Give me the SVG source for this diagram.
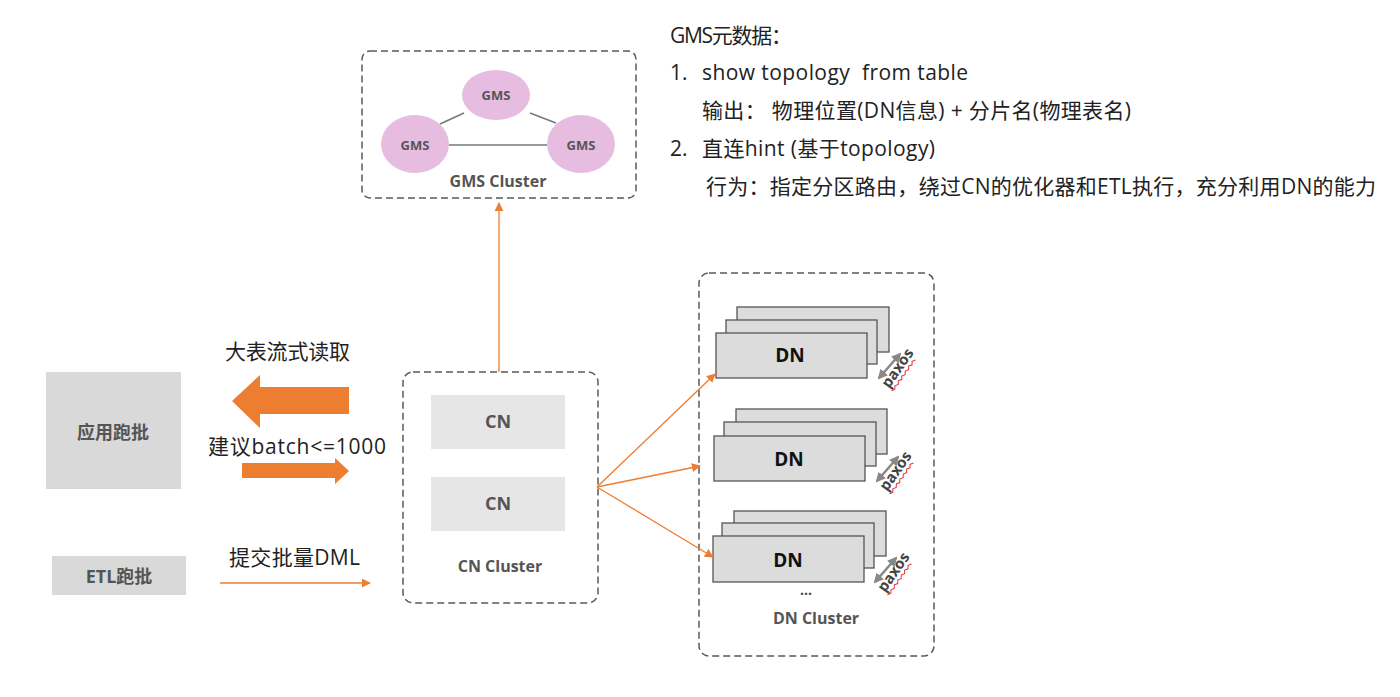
<svg xmlns="http://www.w3.org/2000/svg" width="1400" height="697" viewBox="0 0 1400 697">
<style>
text{font-family:"Open Sans","Noto Sans CJK SC",sans-serif}
.cl{fill:none;stroke:#595959;stroke-width:1.5;stroke-dasharray:7 4}
.lbl{font-weight:bold;fill:#555;text-anchor:middle}
.gms{fill:#e6bde0}
.dn{fill:#dcdcdc;stroke:#555;stroke-width:1.3}
.cn{fill:#e6e6e6}
.wire{stroke:#ED7D31;stroke-width:1.3;fill:none}
.txt{font-size:21px;fill:#222}
.px{fill:none;stroke:#888;stroke-width:2.5}
.wave{fill:none;stroke:#e03030;stroke-width:1}
</style>
<defs>
<marker id="oa" viewBox="0 0 10 10" refX="9" refY="5" markerWidth="9" markerHeight="9" markerUnits="userSpaceOnUse" orient="auto"><path d="M0,0 L10,5 L0,10 z" fill="#ED7D31"/></marker>
<marker id="ga" viewBox="0 0 10 10" refX="8" refY="5" markerWidth="4" markerHeight="4" orient="auto-start-reverse"><path d="M0,0 L10,5 L0,10 z" fill="#888"/></marker>
<g id="paxos">
<line class="px" x1="0" y1="0" x2="21" y2="-24" marker-start="url(#ga)" marker-end="url(#ga)"/>
<g transform="translate(10,11) rotate(-55)">
<text x="0" y="0" font-size="15" font-weight="bold" fill="#444">paxos</text>
<path class="wave" d="M0,3 l3,2 l3,-2 l3,2 l3,-2 l3,2 l3,-2 l3,2 l3,-2 l3,2 l3,-2 l3,2 l3,-2 l3,2"/>
</g>
</g>
</defs>
<rect width="1400" height="697" fill="#ffffff"/>

<g id="gms-cluster">
<rect class="cl" x="362" y="51" width="274" height="147" rx="8"/>
<line x1="440" y1="124" x2="464" y2="113" stroke="#777" stroke-width="1.5"/>
<line x1="530" y1="113" x2="556" y2="123" stroke="#777" stroke-width="1.5"/>
<line x1="449" y1="145" x2="547" y2="145" stroke="#777" stroke-width="1.5"/>
<ellipse class="gms" cx="496" cy="95" rx="34" ry="25"/>
<ellipse class="gms" cx="415" cy="144" rx="34" ry="29"/>
<ellipse class="gms" cx="581" cy="144" rx="34" ry="29"/>
<text class="lbl" x="496" y="95" font-size="13" dominant-baseline="central" fill="#444">GMS</text>
<text class="lbl" x="415" y="145" font-size="13" dominant-baseline="central">GMS</text>
<text class="lbl" x="581" y="145" font-size="13" dominant-baseline="central">GMS</text>
<text class="lbl" x="498" y="187" font-size="16">GMS Cluster</text>
</g>

<g id="notes">
<text class="txt" x="670" y="43" textLength="122">GMS元数据：</text>
<text class="txt" x="670" y="80">1.</text>
<text class="txt" x="702" y="80" xml:space="preserve" textLength="266">show topology  from table</text>
<text class="txt" x="702" y="118" xml:space="preserve" textLength="429">输出： 物理位置(DN信息) + 分片名(物理表名)</text>
<text class="txt" x="670" y="156">2.</text>
<text class="txt" x="702" y="156" textLength="233">直连hint (基于topology)</text>
<text class="txt" x="706" y="194" textLength="670">行为：指定分区路由，绕过CN的优化器和ETL执行，充分利用DN的能力</text>
</g>

<g id="app-batch">
<rect x="46" y="372" width="135" height="117" fill="#d9d9d9"/>
<text class="lbl" x="113" y="439" font-size="18">应用跑批</text>
</g>
<g id="etl-batch">
<rect x="52" y="556" width="134" height="39" fill="#d9d9d9"/>
<text class="lbl" x="119" y="583" font-size="18">ETL跑批</text>
</g>

<g id="flows">
<path d="M349,387 L260,387 L260,375 L232,401 L260,428 L260,414 L349,414 z" fill="#ED7D31"/>
<text class="txt" x="225" y="359" textLength="125">大表流式读取</text>
<text class="txt" x="208" y="454" textLength="178">建议batch&lt;=1000</text>
<path d="M242,463 L335,463 L335,458 L349,471 L335,484 L335,478 L242,478 z" fill="#ED7D31"/>
<text class="txt" x="229" y="565" textLength="131">提交批量DML</text>
</g>

<g id="cn-cluster">
<rect class="cl" x="403" y="372" width="195" height="231" rx="10"/>
<rect class="cn" x="431" y="395" width="134" height="54"/>
<rect class="cn" x="431" y="477" width="134" height="54"/>
<text class="lbl" x="498" y="428" font-size="18">CN</text>
<text class="lbl" x="498" y="510" font-size="18">CN</text>
<text class="lbl" x="500" y="572" font-size="16">CN Cluster</text>
</g>

<g id="dn-cluster">
<rect class="cl" x="699" y="273" width="235" height="383" rx="10"/>
<rect class="dn" x="737" y="307" width="152" height="45"/>
<rect class="dn" x="726" y="320" width="151" height="44"/>
<rect class="dn" x="716" y="333" width="151" height="45"/>
<text x="790" y="362" font-size="19" font-weight="bold" fill="#111" text-anchor="middle">DN</text>
<use href="#paxos" x="879" y="378"/>

<rect class="dn" x="736" y="409" width="151" height="45"/>
<rect class="dn" x="724" y="422" width="152" height="44"/>
<rect class="dn" x="714" y="436" width="151" height="45"/>
<text x="789" y="466" font-size="19" font-weight="bold" fill="#111" text-anchor="middle">DN</text>
<use href="#paxos" x="877" y="481"/>

<rect class="dn" x="734" y="511" width="152" height="45"/>
<rect class="dn" x="722" y="523" width="152" height="45"/>
<rect class="dn" x="713" y="536" width="151" height="46"/>
<text x="788" y="567" font-size="19" font-weight="bold" fill="#111" text-anchor="middle">DN</text>
<use href="#paxos" x="875" y="582"/>
<text x="806" y="595" font-size="14" font-weight="bold" fill="#444" text-anchor="middle">...</text>
<text class="lbl" x="816" y="624" font-size="16">DN Cluster</text>
</g>

<g id="connectors">
<line class="wire" x1="499" y1="372" x2="499" y2="203" marker-end="url(#oa)"/>
<line class="wire" x1="597" y1="487" x2="715" y2="374" marker-end="url(#oa)"/>
<line class="wire" x1="597" y1="487" x2="700" y2="466" marker-end="url(#oa)"/>
<line class="wire" x1="597" y1="487" x2="713" y2="557" marker-end="url(#oa)"/>
<line class="wire" x1="220" y1="583" x2="370" y2="583" stroke-width="2" marker-end="url(#oa)"/>
</g>
</svg>
